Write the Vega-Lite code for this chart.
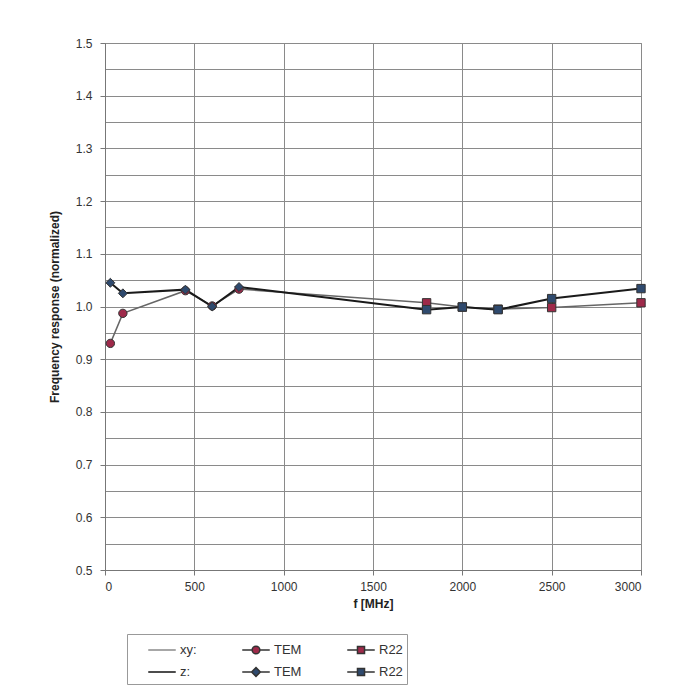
{
  "$schema": "https://vega.github.io/schema/vega-lite/v6.json",
  "autosize": {"type": "none"},
  "width": 536,
  "height": 527,
  "padding": {"left": 105, "top": 43, "right": 32, "bottom": 121},
  "background": "white",
  "config": {
    "font": "Liberation Sans",
    "view": {"stroke": "#8a8a8a", "strokeWidth": 1},
    "axis": {
      "labelFont": "Liberation Sans",
      "titleFont": "Liberation Sans",
      "labelFontSize": 12,
      "titleFontSize": 12,
      "titleFontWeight": "bold",
      "labelColor": "#333",
      "titleColor": "#222",
      "gridColor": "#8a8a8a",
      "gridWidth": 1,
      "gridOpacity": 1,
      "domainColor": "#777",
      "tickColor": "#777",
      "tickSize": 5
    },
    "legend": {
      "labelFont": "Liberation Sans", "labelFontSize": 13, "labelColor": "#333",
      "title": null,
      "orient": "none",
      "direction": "horizontal",
      "legendX": 22,
      "legendY": 591,
      "columns": 3,
      "columnPadding": 28,
      "rowPadding": 3,
      "padding": 4,
      "strokeColor": "#999",
      "fillColor": "white",
      "symbolSize": 484,
      "symbolOffset": 19,
      "labelOffset": 6,
      "symbolOpacity": 1,
      "symbolStrokeWidth": 1.5
    }
  },
  "data": {
    "values": [
      {"series": "xy", "key": "xy TEM", "f": 30, "r": 0.930},
      {"series": "xy", "key": "xy TEM", "f": 100, "r": 0.987},
      {"series": "xy", "key": "xy TEM", "f": 450, "r": 1.030},
      {"series": "xy", "key": "xy TEM", "f": 600, "r": 1.001},
      {"series": "xy", "key": "xy TEM", "f": 750, "r": 1.033},
      {"series": "xy", "key": "xy R22", "f": 1800, "r": 1.007},
      {"series": "xy", "key": "xy R22", "f": 2000, "r": 0.999},
      {"series": "xy", "key": "xy R22", "f": 2200, "r": 0.995},
      {"series": "xy", "key": "xy R22", "f": 2500, "r": 0.998},
      {"series": "xy", "key": "xy R22", "f": 3000, "r": 1.007},
      {"series": "z", "key": "z TEM", "f": 30, "r": 1.045},
      {"series": "z", "key": "z TEM", "f": 100, "r": 1.025},
      {"series": "z", "key": "z TEM", "f": 450, "r": 1.032},
      {"series": "z", "key": "z TEM", "f": 600, "r": 1.000},
      {"series": "z", "key": "z TEM", "f": 750, "r": 1.037},
      {"series": "z", "key": "z R22", "f": 1800, "r": 0.994},
      {"series": "z", "key": "z R22", "f": 2000, "r": 0.999},
      {"series": "z", "key": "z R22", "f": 2200, "r": 0.994},
      {"series": "z", "key": "z R22", "f": 2500, "r": 1.015},
      {"series": "z", "key": "z R22", "f": 3000, "r": 1.034}
    ]
  },
  "encoding": {
    "x": {
      "field": "f", "type": "quantitative",
      "scale": {"domain": [0, 3000], "nice": false},
      "axis": {"values": [0, 500, 1000, 1500, 2000, 2500, 3000], "format": "d", "title": "f [MHz]", "labelPadding": 6, "titlePadding": 6}
    },
    "y": {
      "field": "r", "type": "quantitative",
      "scale": {"domain": [0.5, 1.5], "nice": false, "zero": false},
      "axis": {
        "values": [0.5, 0.55, 0.6, 0.65, 0.7, 0.75, 0.8, 0.85, 0.9, 0.95, 1.0, 1.05, 1.1, 1.15, 1.2, 1.25, 1.3, 1.35, 1.4, 1.45, 1.5],
        "labelExpr": "round(datum.value*20)%2==0 ? format(datum.value,'.1f') : ''",
        "tickOpacity": {"condition": {"test": "round(datum.value*20)%2!=0", "value": 0}, "value": 1},
        "title": "Frequency response (normalized)",
        "labelPadding": 8,
        "titlePadding": 14
      }
    },
    "fill": {
      "field": "key", "type": "nominal",
      "scale": {
        "domain": ["xy:", "xy TEM", "xy R22", "z:", "z TEM", "z R22"],
        "range": ["#777777", "#9e2a4a", "#9e2a4a", "#111111", "#2f4a6e", "#2f4a6e"]
      },
      "legend": {
        "labelExpr": "indexof(datum.label,'TEM')>=0 ? 'TEM' : (indexof(datum.label,'R22')>=0 ? 'R22' : datum.label)"
      }
    }
  },
  "layer": [
    {
      "transform": [{"filter": "datum.series=='xy'"}],
      "mark": {"type": "line", "color": "#666", "strokeWidth": 1.5},
      "encoding": {"order": {"field": "f"}, "fill": null}
    },
    {
      "transform": [{"filter": "datum.series=='z'"}],
      "mark": {"type": "line", "color": "#1a1a1a", "strokeWidth": 2},
      "encoding": {"order": {"field": "f"}, "fill": null}
    },
    {
      "mark": {"type": "point", "filled": true, "opacity": 0, "size": 1},
      "encoding": {
        "shape": {
          "field": "key", "type": "nominal",
          "scale": {
            "domain": ["xy:", "xy TEM", "xy R22", "z:", "z TEM", "z R22"],
            "range": [
              "M-1.25,0H1.25",
              "M-1.25,0H-0.35M0.35,0H1.25M-0.35,0A0.35,0.35 0 1,1 0.35,0A0.35,0.35 0 1,1 -0.35,0Z",
              "M-1.25,0H-0.32M0.32,0H1.25M-0.32,-0.32H0.32V0.32H-0.32Z",
              "M-1.25,0H1.25",
              "M-1.25,0H-0.4M0.4,0H1.25M0,-0.4L0.4,0L0,0.4L-0.4,0Z",
              "M-1.25,0H-0.32M0.32,0H1.25M-0.32,-0.32H0.32V0.32H-0.32Z"
            ]
          }
        },
        "stroke": {
          "field": "key", "type": "nominal",
          "scale": {
            "domain": ["xy:", "xy TEM", "xy R22", "z:", "z TEM", "z R22"],
            "range": ["#8a8a8a", "#333333", "#333333", "#111111", "#333333", "#333333"]
          }
        }
      }
    },
    {
      "transform": [{"filter": "datum.key=='xy TEM'"}],
      "mark": {"type": "point", "shape": "circle", "filled": true, "size": 70, "opacity": 1, "stroke": "#333", "strokeWidth": 1}
    },
    {
      "transform": [{"filter": "datum.key=='z TEM'"}],
      "mark": {"type": "point", "shape": "diamond", "filled": true, "size": 80, "opacity": 1, "stroke": "#333", "strokeWidth": 1}
    },
    {
      "transform": [{"filter": "datum.key=='xy R22' || datum.key=='z R22'"}],
      "mark": {"type": "point", "shape": "square", "filled": true, "size": 70, "opacity": 1, "stroke": "#333", "strokeWidth": 1}
    }
  ]
}
